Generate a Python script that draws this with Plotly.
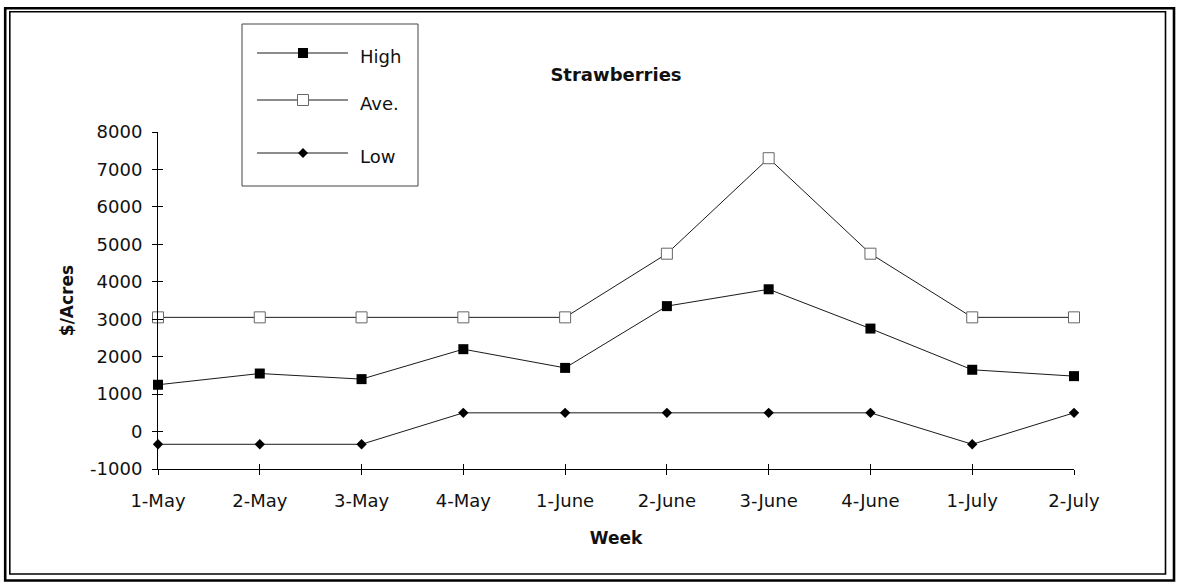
import plotly.graph_objects as go

# Weekly strawberry returns, $/acre
weeks = ["1-May", "2-May", "3-May", "4-May", "1-June",
         "2-June", "3-June", "4-June", "1-July", "2-July"]
high = [1250, 1550, 1400, 2200, 1700, 3350, 3800, 2750, 1650, 1480]
ave = [3050, 3050, 3050, 3050, 3050, 4750, 7300, 4750, 3050, 3050]
low = [-340, -340, -340, 500, 500, 500, 500, 500, -340, 500]
y_ticks = list(range(-1000, 8001, 1000))
y_tick_text = [str(v) for v in y_ticks]  # plain hyphen for negatives
series_names = ["High", "Ave.", "Low"]

W, H = 1177, 585
L, R, T, B = 158, 103, 132, 116
PW, PH = W - L - R, H - T - B
FONT = "DejaVu Sans"
INK = "#111111"


def px(x):
    return (x - L) / PW


def py(y):
    return (H - B - y) / PH


xs = list(range(len(weeks)))
line_style = dict(color="#1a1a1a", width=1)

fig = go.Figure()
fig.add_trace(go.Scatter(
    x=xs, y=high, name=series_names[0], mode="lines+markers", cliponaxis=False,
    line=line_style, marker=dict(symbol="square", size=10, color="black",
                                 line=dict(width=0))))
fig.add_trace(go.Scatter(
    x=xs, y=ave, name=series_names[1], mode="lines+markers", cliponaxis=False,
    line=line_style, marker=dict(symbol="square", size=11, color="white",
                                 line=dict(color="#666666", width=1))))
fig.add_trace(go.Scatter(
    x=xs, y=low, name=series_names[2], mode="lines+markers", cliponaxis=False,
    line=line_style, marker=dict(symbol="diamond", size=8, color="black",
                                 line=dict(width=0))))
# empty trace so the overlay axes (inner tick halves) get drawn
fig.add_trace(go.Scatter(x=[], y=[], xaxis="x2", yaxis="y2",
                         showlegend=False, hoverinfo="skip"))

shapes = []
# double frame round the whole chart
shapes.append(dict(type="rect", xref="paper", yref="paper",
                   x0=px(5.2), x1=px(1174), y0=py(8.2), y1=py(580.5),
                   line=dict(color="black", width=2.6), layer="above"))
shapes.append(dict(type="rect", xref="paper", yref="paper",
                   x0=px(9.8), x1=px(1165.5), y0=py(11.8), y1=py(574),
                   line=dict(color="black", width=1.6), layer="above"))

# legend box
shapes.append(dict(type="rect", xref="paper", yref="paper",
                   x0=px(242), x1=px(418), y0=py(24), y1=py(186),
                   line=dict(color="#444444", width=1), fillcolor="white"))
rows = [53, 100, 153]
annotations = []
for name, ry in zip(series_names, rows):
    shapes.append(dict(type="line", xref="paper", yref="paper",
                       x0=px(257), x1=px(348), y0=py(ry), y1=py(ry),
                       line=line_style))
    annotations.append(dict(text=name, xref="paper", yref="paper",
                            x=px(358), y=py(ry + 3), xanchor="left",
                            yanchor="middle", showarrow=False,
                            font=dict(family=FONT, size=18, color=INK)))
cx = 303
shapes.append(dict(type="rect", xref="paper", yref="paper",
                   x0=px(cx - 5), x1=px(cx + 5), y0=py(rows[0] - 5), y1=py(rows[0] + 5),
                   line=dict(width=0), fillcolor="black"))
shapes.append(dict(type="rect", xref="paper", yref="paper",
                   x0=px(cx - 5.5), x1=px(cx + 5.5), y0=py(rows[1] - 5.5), y1=py(rows[1] + 5.5),
                   line=dict(color="#666666", width=1), fillcolor="white"))
d = 5
ly = rows[2]
shapes.append(dict(type="path", xref="paper", yref="paper",
                   path=f"M {px(cx)} {py(ly - d)} L {px(cx + d)} {py(ly)} "
                        f"L {px(cx)} {py(ly + d)} L {px(cx - d)} {py(ly)} Z",
                   line=dict(width=0), fillcolor="black"))

axis_common = dict(showline=True, linecolor="black", linewidth=1,
                   showgrid=False, zeroline=False, tickcolor="black",
                   ticklen=5, tickwidth=1)
tick_font = dict(family=FONT, size=18, color=INK)

fig.update_layout(
    width=W, height=H,
    margin=dict(l=L, r=R, t=T, b=B),
    paper_bgcolor="white", plot_bgcolor="white",
    showlegend=False,
    font=dict(family=FONT, size=17, color=INK),
    title=dict(text="<b>Strawberries</b>", x=616 / W, xanchor="center",
               xref="container", y=1 - 75 / H, yanchor="middle",
               yref="container",
               font=dict(family=FONT, size=18, color=INK)),
    xaxis=dict(range=[0, len(weeks) - 1], tickmode="array", tickvals=xs,
               ticktext=weeks, ticks="outside", ticklabelstandoff=10,
               tickfont=tick_font,
               title=dict(text="<b>Week</b>", standoff=22,
                          font=dict(family=FONT, size=17, color=INK)),
               **axis_common),
    yaxis=dict(range=[-1000, 8000], tickmode="array", tickvals=y_ticks,
               ticktext=y_tick_text, ticks="outside", ticklabelstandoff=6,
               tickfont=tick_font,
               title=dict(text="<b>$/Acres</b>", standoff=12,
                          font=dict(family=FONT, size=17, color=INK)),
               **axis_common),
    # inner halves of the crossing tick marks
    xaxis2=dict(overlaying="x", range=[0, len(weeks) - 1], tickmode="array",
                tickvals=xs, ticks="inside", showticklabels=False,
                anchor="y", side="bottom", **axis_common),
    yaxis2=dict(overlaying="y", range=[-1000, 8000], tickmode="array",
                tickvals=y_ticks, ticks="inside", showticklabels=False,
                anchor="x", side="left", **axis_common),
    shapes=shapes,
    annotations=annotations,
)

fig.write_html("out.html")
